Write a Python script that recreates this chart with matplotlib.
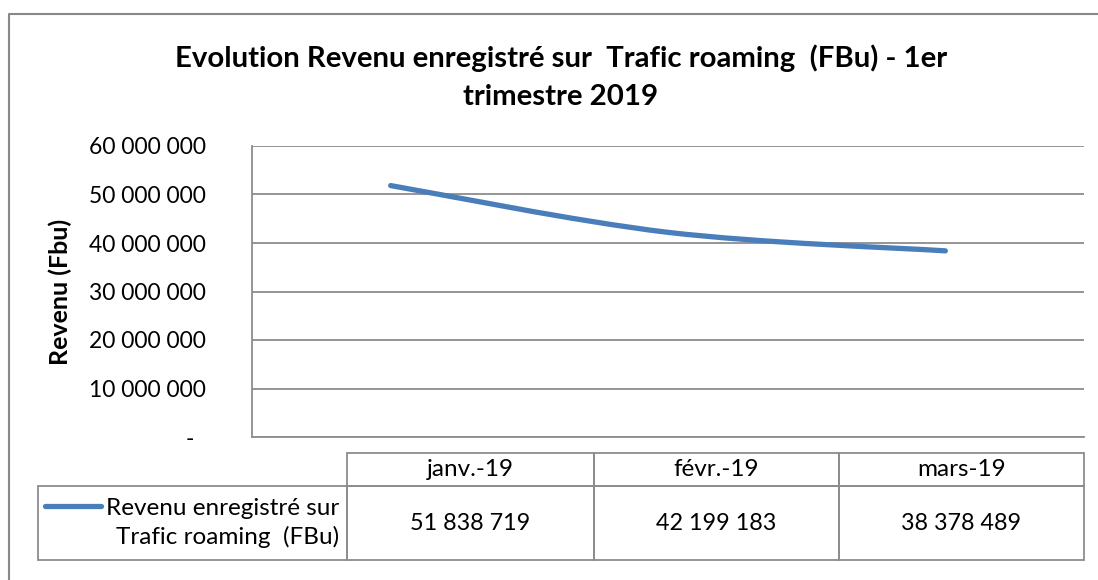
import numpy as np
import matplotlib.pyplot as plt
from matplotlib.path import Path
from matplotlib.patches import PathPatch, Rectangle

# data
months = ['janv.-19', 'févr.-19', 'mars-19']
revenue = [51838719, 42199183, 38378489]
series_name = 'Revenu enregistré sur\nTrafic roaming  (FBu)'
yticks = [0, 10000000, 20000000, 30000000, 40000000, 50000000, 60000000]

title_1 = 'Evolution Revenu enregistré sur  Trafic roaming  (FBu) - 1er'
title_2 = 'trimestre 2019'
ylabel = 'Revenu (Fbu)'

blue = '#4a7ebb'
gray = '#8c8c8c'

plt.rcParams['font.family'] = ['Lato', 'DejaVu Sans']


def fmt(v):
    # excel accounting style: space groups, dash for zero
    if v == 0:
        return '-  '
    return f'{int(v):,}'.replace(',', ' ')


W, H = 1098, 580
fig = plt.figure(figsize=(W / 100, H / 100), dpi=100)


def fx(px):
    return px / W


def fy(py):
    return 1 - py / H


# plot area
ax = fig.add_axes([fx(252), fy(437), fx(1084) - fx(252), fy(146) - fy(437)])
ax.set_xlim(0, len(months))
ax.set_ylim(0, 60000000)
ax.set_yticks(yticks)
ax.set_yticklabels([fmt(v) for v in yticks])
ax.set_xticks([])
ax.tick_params(axis='y', length=0, pad=33, labelsize=16.5)
ax.yaxis.grid(True, color=gray, lw=1.3)
ax.set_axisbelow(True)
for s in ['top', 'right']:
    ax.spines[s].set_visible(False)
for s in ['left', 'bottom']:
    ax.spines[s].set_color(gray)
    ax.spines[s].set_linewidth(1.3)

# smoothed line (bezier through the points, like excel)
xs = np.arange(len(months)) + 0.5
pts = np.column_stack([xs, revenue]).astype(float)
ext = np.vstack([pts[0], pts, pts[-1]])
verts = [pts[0]]
codes = [Path.MOVETO]
for i in range(len(pts) - 1):
    p0, p1, p2, p3 = ext[i], ext[i + 1], ext[i + 2], ext[i + 3]
    verts += [p1 + (p2 - p0) / 6, p2 - (p3 - p1) / 6, p2]
    codes += [Path.CURVE4] * 3
ax.add_patch(PathPatch(Path(verts, codes), fill=False, edgecolor=blue, lw=3.8,
                       capstyle='round', joinstyle='round', zorder=3))

# titles
fig.text(fx(561), fy(67), title_1, ha='center', va='baseline', fontsize=21.2, fontweight='bold')
fig.text(fx(561), fy(105), title_2, ha='center', va='baseline', fontsize=21.2, fontweight='bold')
fig.text(fx(60), fy(292), ylabel, rotation=90, ha='center', va='center', fontsize=18, fontweight='bold')

# data table + outer frame, drawn in pixel coordinates
tab = fig.add_axes([0, 0, 1, 1], zorder=-1)
tab.set_xlim(0, W)
tab.set_ylim(H, 0)
tab.axis('off')

tab.plot([9, 9, W + 10], [H + 10, 14, 14], color='#888888', lw=1.5, clip_on=False)

col_edges = [347, 594, 839, 1084]
head_top, head_bot, row_bot = 453, 486, 560
for i, m in enumerate(months):
    x0, x1 = col_edges[i], col_edges[i + 1]
    tab.add_patch(Rectangle((x0, head_top), x1 - x0, head_bot - head_top, fill=False, edgecolor=gray, lw=1.3))
    tab.add_patch(Rectangle((x0, head_bot), x1 - x0, row_bot - head_bot, fill=False, edgecolor=gray, lw=1.3))
    tab.text((x0 + x1) / 2, (head_top + head_bot) / 2, m, ha='center', va='center', fontsize=17.5)
    tab.text((x0 + x1) / 2, (head_bot + row_bot) / 2, fmt(revenue[i]), ha='center', va='center', fontsize=16.8)

tab.add_patch(Rectangle((38, head_bot), col_edges[0] - 38, row_bot - head_bot, fill=False, edgecolor=gray, lw=1.3))
tab.text(339, (head_bot + row_bot) / 2, series_name, ha='right', va='center', multialignment='right',
         fontsize=17.5, linespacing=1.35)
tab.plot([45, 101], [506, 506], color=blue, lw=3.8, solid_capstyle='round')

fig.savefig('out.png', dpi=100)
